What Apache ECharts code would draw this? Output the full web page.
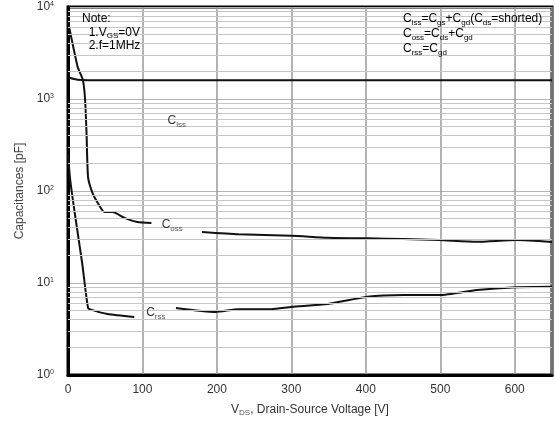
<!DOCTYPE html>
<html>
<head>
<meta charset="utf-8">
<script src="https://cdn.jsdelivr.net/npm/echarts@6/dist/echarts.min.js"></script>
<style>
  html, body { margin: 0; padding: 0; background: #fff; }
  #chart { width: 555px; height: 425px; }
</style>
</head>
<body>
<div id="chart"></div>
<script>
// data (VDS in V, capacitance in pF); '-' = gap under a label
const cissVds = [0, 8, 18, 40, 100, 200, 300, 400, 500, 600, 650];
const cissPf = [1720, 1650, 1610, 1600, 1600, 1600, 1600, 1600, 1600, 1600, 1600];

const cossVds = [0, 2, 13, 20, 23, 25, 27, 33, 40, 49, 60, 76, 93, 112, 150, 180, 229, 300, 349, 402, 450, 499, 549, 602, 650];
const cossPf = [7000, 5800, 2230, 1610, 976, 400, 140, 95, 74, 59, 59, 51, 46, 45, '-', 35.8, 33.8, 32.7, 31.1, 30.6, 30, 29.3, 28.1, 29.3, 27.9];

const crssVds = [0, 3, 9, 19, 27, 32, 53, 89, 120, 145, 198, 229, 273, 300, 349, 402, 451, 499, 549, 602, 650];
const crssPf = [250, 131, 58, 16.5, 5.35, 5.1, 4.6, 4.27, '-', 5.35, 4.84, 5.2, 5.2, 5.5, 5.9, 7.1, 7.4, 7.4, 8.4, 9.0, 9.1];

const xTicks = [0, 100, 200, 300, 400, 500, 600];
const yDecades = [1, 10, 100, 1000, 10000];
const yTickLabels = ['0', '1', '2', '3', '4'];
const minorMultipliers = [2, 3, 4, 5, 6, 7, 8, 9];

// label anchors [VDS, pF]
const cissLabelAt = [146, 577];
const cossLabelAt = [140, 42.7];
const crssLabelAt = [118, 4.72];

const minorLevels = [];
yDecades.slice(0, 4).forEach(d => minorMultipliers.forEach(m => minorLevels.push(d * m)));

const font = 'Liberation Sans, Arial, sans-serif';
const rich = {
  n: { fontFamily: font, fontSize: 12, color: '#333' },
  s: { fontFamily: font, fontSize: 8, color: '#555', padding: [7, 0, 0, 0] },
  p: { fontFamily: font, fontSize: 7, color: '#333', padding: [0, 0, 6, 0] }
};

const pairs = (xs, ys) => xs.map((x, i) => [x, ys[i]]);

const capLabel = (sub, at) => ({
  silent: true,
  symbol: 'rect',
  symbolSize: 0,
  data: [{ coord: at }],
  label: {
    show: true,
    position: 'inside',
    formatter: '{n|C}{s|' + sub + '}',
    rich: rich
  }
});

const chart = echarts.init(document.getElementById('chart'));
chart.setOption({
  animation: false,
  grid: { left: 68, right: -2, top: 7, bottom: 50, show: true, borderColor: '#000', borderWidth: 3 },
  xAxis: {
    type: 'value',
    min: 0,
    max: 650,
    interval: 100,
    name: '{n|V}{s|DS}{n|, Drain-Source Voltage [V]}',
    nameLocation: 'middle',
    nameGap: 27,
    nameTextStyle: { rich: rich },
    axisLine: { lineStyle: { color: '#000', width: 3 } },
    axisTick: { show: false },
    axisLabel: {
      margin: 9,
      fontFamily: font,
      fontSize: 12,
      color: '#333',
      formatter: v => (xTicks.includes(v) ? String(v) : '')
    },
    splitLine: { show: true, lineStyle: { color: '#999', width: 1.5 } }
  },
  yAxis: {
    type: 'log',
    logBase: 10,
    min: 1,
    max: 10000,
    name: 'Capacitances [pF]',
    nameLocation: 'middle',
    nameGap: 36,
    nameTextStyle: { fontFamily: font, fontSize: 12, color: '#444' },
    axisLine: { show: true, lineStyle: { color: '#000', width: 3 } },
    axisTick: { show: false },
    axisLabel: {
      margin: 14,
      formatter: v => '{n|10}{p|' + yTickLabels[yDecades.indexOf(Math.round(v))] + '}',
      rich: rich
    },
    splitLine: { show: true, lineStyle: { color: '#b4b4b4', width: 1 } }
  },
  graphic: [{
    type: 'text',
    left: 82,
    top: 13,
    z: 6,
    style: {
      text: '{n|Note:}\n{n|  1.V}{s|GS}{n|=0V}\n{n|  2.f=1MHz}',
      rich: rich
    }
  }, {
    type: 'text',
    left: 403,
    top: 13,
    z: 6,
    style: {
      text: '{n|C}{s|iss}{n|=C}{s|gs}{n|+C}{s|gd}{n|(C}{s|ds}{n|=shorted)}\n' +
            '{n|C}{s|oss}{n|=C}{s|ds}{n|+C}{s|gd}\n' +
            '{n|C}{s|rss}{n|=C}{s|gd}',
      rich: rich
    }
  }],
  series: [{
    name: 'Ciss',
    type: 'line',
    symbol: 'none',
    smooth: 0.2,
    lineStyle: { color: '#111', width: 2 },
    data: pairs(cissVds, cissPf),
    markLine: {
      silent: true,
      symbol: 'none',
      label: { show: false },
      lineStyle: { color: '#c6c6c6', width: 1, type: 'solid' },
      data: minorLevels.map(v => ({ yAxis: v }))
    },
    markPoint: capLabel('iss', cissLabelAt)
  }, {
    name: 'Coss',
    type: 'line',
    symbol: 'none',
    smooth: 0.2,
    lineStyle: { color: '#111', width: 2 },
    data: pairs(cossVds, cossPf),
    markPoint: capLabel('oss', cossLabelAt)
  }, {
    name: 'Crss',
    type: 'line',
    symbol: 'none',
    smooth: 0.2,
    lineStyle: { color: '#111', width: 2 },
    data: pairs(crssVds, crssPf),
    markPoint: capLabel('rss', crssLabelAt)
  }]
});
</script>
</body>
</html>
